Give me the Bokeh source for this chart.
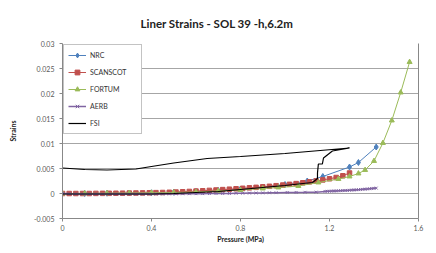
from bokeh.plotting import figure
from bokeh.models import (FixedTicker, CustomJSTickFormatter, LinearAxis,
                          Legend, LegendItem)
from bokeh.embed import file_html
from bokeh.resources import INLINE

# ---- data: pressure (MPa) vs liner strain ----
nrc_p = [0.0, 0.1, 0.2, 0.3, 0.4, 0.5, 0.6, 0.7, 0.8, 0.9, 1.0, 1.1, 1.17, 1.29, 1.33, 1.41]
nrc_s = [0.0, 0.0, 0.00005, 0.0001, 0.00015, 0.00025, 0.0004, 0.0006, 0.0009, 0.0013,
         0.0018, 0.0025, 0.0034, 0.0053, 0.0062, 0.0093]

scan_p = [0.0, 0.03, 0.06, 0.09, 0.12, 0.15, 0.18, 0.21, 0.24, 0.27, 0.30, 0.33, 0.36,
          0.39, 0.42, 0.45, 0.48, 0.51, 0.54, 0.57, 0.60, 0.63, 0.66, 0.69, 0.72, 0.75,
          0.78, 0.81, 0.84, 0.87, 0.90, 0.93, 0.96, 0.99, 1.02, 1.05, 1.08, 1.11, 1.14,
          1.17, 1.20, 1.23, 1.26, 1.29]
scan_s = [0.0, 0.0, 0.0, 0.0, 0.0, 0.00002, 0.00003, 0.00004, 0.00005, 0.00006, 0.00008,
          0.0001, 0.00012, 0.00014, 0.00017, 0.0002, 0.00024, 0.00029, 0.00035, 0.00041,
          0.00048, 0.00055, 0.00062, 0.0007, 0.00078, 0.00086, 0.00095, 0.00104, 0.00113,
          0.00123, 0.00133, 0.00144, 0.00156, 0.00169, 0.00183, 0.00198, 0.00215, 0.00233,
          0.00252, 0.00272, 0.00295, 0.0032, 0.00355, 0.0041]

fortum_p = [0.0, 0.1, 0.2, 0.3, 0.4, 0.5, 0.6, 0.7, 0.8, 0.9, 0.97, 1.06, 1.15, 1.24,
            1.29, 1.33, 1.36, 1.40, 1.44, 1.48, 1.52, 1.56]
fortum_s = [0.0, 0.00002, 0.00005, 0.0001, 0.00015, 0.0002, 0.0003, 0.0005, 0.0007,
            0.001, 0.0012, 0.0015, 0.0022, 0.0029, 0.0034, 0.004, 0.0047, 0.0065,
            0.0101, 0.0146, 0.0202, 0.0263]

aerb_p = [0.0, 0.03, 0.06, 0.09, 0.12, 0.15, 0.18, 0.21, 0.24, 0.27, 0.30, 0.33, 0.36,
          0.39, 0.42, 0.45, 0.48, 0.51, 0.54, 0.57, 0.60, 0.63, 0.66, 0.69, 0.72, 0.75,
          0.78, 0.81, 0.84, 0.87, 0.90, 0.93, 0.96, 1.01, 1.05, 1.09, 1.14,
          1.18, 1.19, 1.20, 1.21, 1.22, 1.23, 1.24, 1.25, 1.26, 1.27, 1.28, 1.29,
          1.30, 1.31, 1.32, 1.33, 1.34, 1.35, 1.36, 1.37, 1.38, 1.39, 1.40, 1.41]
aerb_s = [0.0, -0.00005, -0.00008, -0.0001, -0.0001, -0.0001, -0.0001, -0.0001, -0.0001,
          -0.0001, -0.0001, -0.0001, -0.0001, -0.0001, -0.0001, -0.0001, -0.00008,
          -0.00008, -0.00006, -0.00005, -0.00004, -0.00003, -0.00002, 0.0, 0.0, 0.00002,
          0.00004, 0.00006, 0.00008, 0.0001, 0.00012, 0.00014, 0.00016, 0.0002, 0.00022,
          0.00024, 0.00027,
          0.00042, 0.00044, 0.00046, 0.00048, 0.0005, 0.00052, 0.00054, 0.00056, 0.00058,
          0.0006, 0.00062, 0.00065, 0.00068, 0.00071, 0.00074, 0.00077, 0.0008, 0.00083,
          0.00087, 0.00091, 0.00095, 0.00099, 0.00103, 0.00108]

# FSI: loading branch up to peak, then unloading back to zero pressure
fsi_p = [0.0, 0.1, 0.2, 0.3, 0.4, 0.5, 0.6, 0.7, 0.8, 0.9, 1.0, 1.06, 1.124, 1.146,
         1.146, 1.15, 1.168, 1.173, 1.213, 1.29,
         1.0, 0.8, 0.65, 0.5, 0.4, 0.33, 0.2, 0.1, 0.0]
fsi_s = [-0.0001, -0.0001, -0.0001, -0.0001, -0.0001, 0.0, 0.0002, 0.0004, 0.0008,
         0.0012, 0.0016, 0.0019, 0.0022, 0.003, 0.0041, 0.0059, 0.0059, 0.0071, 0.0085,
         0.0091,
         0.008, 0.0074, 0.007, 0.0061, 0.0054, 0.0049, 0.0047, 0.0048, 0.0051]

y_ticks = [-0.005, 0.0, 0.005, 0.01, 0.015, 0.02, 0.025, 0.03]
x_ticks = [0.0, 0.4, 0.8, 1.2, 1.6]

FONT = "Lato"
TICK_COLOR = "#595959"
AXIS_COLOR = "#888888"

p = figure(width=436, height=253, x_range=(0, 1.6), y_range=(-0.005, 0.03),
           output_backend="svg", toolbar_location=None,
           min_border_left=62, min_border_right=18, min_border_top=43,
           min_border_bottom=35, background_fill_color="white",
           border_fill_color="white", outline_line_color=None,
           title="Liner Strains - SOL 39 -h,6.2m")

p.styles = {"outline": "1px solid #c8c8c8", "outline-offset": "-2px"}

p.title.text_font = FONT
p.title.text_font_size = "11.5px"
p.title.text_font_style = "bold"
p.title.text_color = "#222222"
p.title.align = "left"
p.title.offset = 78
p.title.standoff = 28

fmt = CustomJSTickFormatter(code="return String(parseFloat(tick.toFixed(4)));")

p.yaxis.ticker = FixedTicker(ticks=y_ticks)
p.xaxis.ticker = FixedTicker(ticks=x_ticks)
p.yaxis.formatter = fmt
p.xaxis.formatter = fmt
for ax in (p.xaxis, p.yaxis):
    ax.axis_line_color = AXIS_COLOR
    ax.major_tick_line_color = AXIS_COLOR
    ax.major_tick_out = 3
    ax.major_tick_in = 0
    ax.minor_tick_line_color = None
    ax.major_label_text_font = FONT
    ax.major_label_text_font_size = "7px"
    ax.major_label_text_color = TICK_COLOR
    ax.axis_label_text_font = FONT
    ax.axis_label_text_font_size = "7px"
    ax.axis_label_text_font_style = "bold"
    ax.axis_label_text_color = "#222222"

p.yaxis.axis_label = "Strains"
p.yaxis.major_label_standoff = 5
p.yaxis.axis_label_standoff = 14
p.xaxis.axis_label = "Pressure (MPa)"
p.xaxis.major_label_standoff = 3
p.xaxis.axis_label_standoff = 1

# plain frame line on the right side
right = LinearAxis(axis_line_color=AXIS_COLOR, major_tick_line_color=None,
                   minor_tick_line_color=None, major_label_text_font_size="0px",
                   ticker=FixedTicker(ticks=[]))
p.add_layout(right, "right")

p.xgrid.visible = False
p.ygrid.ticker = FixedTicker(ticks=y_ticks[:-1])
p.ygrid.grid_line_color = "#a6a6a6"
p.ygrid.grid_line_width = 1

NRC_C = "#4F81BD"
SCAN_C = "#C0504D"
FORT_C = "#9BBB59"
AERB_C = "#8064A2"

r_nrc_l = p.line(nrc_p, nrc_s, line_color=NRC_C, line_width=1)
r_nrc_m = p.scatter(nrc_p, nrc_s, marker="diamond", size=6, fill_color=NRC_C,
                    line_color=NRC_C)

r_scan_l = p.line(scan_p, scan_s, line_color=SCAN_C, line_width=1)
r_scan_m = p.scatter(scan_p, scan_s, marker="square", size=4.5, fill_color=SCAN_C,
                     line_color=SCAN_C)

r_fort_l = p.line(fortum_p, fortum_s, line_color=FORT_C, line_width=1)
r_fort_m = p.scatter(fortum_p, fortum_s, marker="triangle", size=5, fill_color=FORT_C,
                     line_color=FORT_C)

r_aerb_l = p.line(aerb_p, aerb_s, line_color=AERB_C, line_width=1.5)
r_aerb_m = p.scatter(aerb_p, aerb_s, marker="x", size=4, line_color=AERB_C,
                     line_width=1)

r_fsi = p.line(fsi_p, fsi_s, line_color="black", line_width=1.2)

legend = Legend(items=[
    LegendItem(label="NRC", renderers=[r_nrc_l, r_nrc_m]),
    LegendItem(label="SCANSCOT", renderers=[r_scan_l, r_scan_m]),
    LegendItem(label="FORTUM", renderers=[r_fort_l, r_fort_m]),
    LegendItem(label="AERB", renderers=[r_aerb_l, r_aerb_m]),
    LegendItem(label="FSI", renderers=[r_fsi]),
], location="top_left")
legend.margin = 1
legend.padding = 4
legend.spacing = 5
legend.glyph_height = 12
legend.glyph_width = 18
legend.label_height = 12
legend.label_width = 47
legend.label_standoff = 4
legend.label_text_font = FONT
legend.label_text_font_size = "7px"
legend.label_text_color = "#333333"
legend.border_line_color = "#888888"
legend.border_line_width = 1
legend.background_fill_color = "white"
legend.background_fill_alpha = 1.0
p.add_layout(legend)

open("out.html", "w").write(file_html(p, INLINE))
